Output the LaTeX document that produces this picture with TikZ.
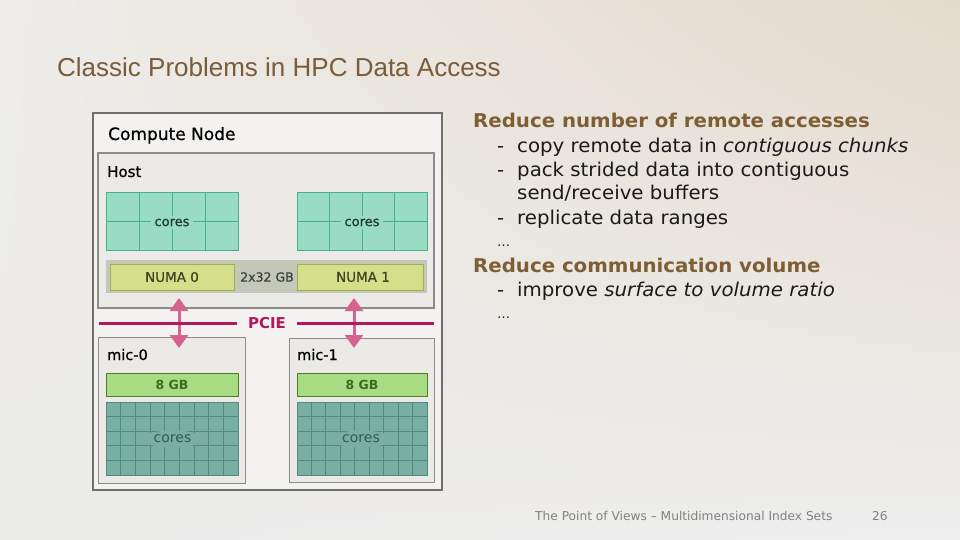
\documentclass[tikz,border=0pt]{standalone}
\usepackage{fontspec}
\setmainfont{DejaVu Sans}
\newfontfamily\titlefont{Liberation Sans}
\newfontfamily\medfont[FakeBold=0.8]{DejaVu Sans}
\usepackage{graphicx}
\usetikzlibrary{arrows.meta,shapes.geometric,shadings}
\definecolor{bgUL}{HTML}{EEEDEA}
\definecolor{bgUR}{HTML}{E4DACB}
\definecolor{bgLL}{HTML}{ECECEB}
\definecolor{bgLR}{HTML}{EEEEEE}
\definecolor{titlecol}{HTML}{7A5C3A}
\definecolor{headcol}{HTML}{7E5E35}
\definecolor{bodycol}{HTML}{1A1A1A}
\definecolor{footcol}{HTML}{808080}
\definecolor{outerdraw}{HTML}{6F6F6F}
\definecolor{outerfill}{HTML}{F3F2F0}
\definecolor{hostdraw}{HTML}{8C8C8C}
\definecolor{hostfill}{HTML}{EBEAE6}
\definecolor{hcfill}{HTML}{99DBC5}
\definecolor{hcline}{HTML}{44B28E}
\definecolor{hctext}{HTML}{1F3A32}
\definecolor{memstrip}{HTML}{C4C8B9}
\definecolor{numafill}{HTML}{D5DF8A}
\definecolor{numadraw}{HTML}{A3AE5A}
\definecolor{numatext}{HTML}{3F4424}
\definecolor{gbtext}{HTML}{3F3F3F}
\definecolor{pciecol}{HTML}{B2175F}
\definecolor{arrowcol}{HTML}{D5628F}
\definecolor{eightfill}{HTML}{A8DC82}
\definecolor{eightdraw}{HTML}{4E7D2E}
\definecolor{eighttext}{HTML}{3C6B1D}
\definecolor{mcfill}{HTML}{79AEA2}
\definecolor{mcline}{HTML}{4F8A7E}
\definecolor{mctext}{HTML}{2F5C53}
\newcommand{\widetxt}[1]{\scalebox{1.04}[1]{#1}}
\begin{document}
\begin{tikzpicture}[x=1pt,y=-1pt,
  rbox/.style={anchor=north west, inner sep=0pt, outer sep=0pt},
  outerbox/.style={rbox, draw=outerdraw, fill=outerfill, line width=2pt},
  hostbox/.style={rbox, draw=hostdraw, fill=hostfill, line width=1.3pt},
  micbox/.style={rbox, draw=hostdraw, fill=hostfill, line width=1pt},
  hcbox/.style={rbox, draw=hcline, fill=hcfill, line width=0.8pt},
  hcgrid/.style={draw=hcline, line width=0.8pt},
  mcbox/.style={rbox, draw=mcline, fill=mcfill, line width=0.8pt},
  mcgrid/.style={draw=mcline, line width=0.8pt},
  numabox/.style={rbox, draw=numadraw, fill=numafill, line width=0.8pt},
  eightbox/.style={rbox, draw=eightdraw, fill=eightfill, line width=0.9pt},
  lbl/.style={anchor=base west, inner sep=0pt, text=black},
  headtxt/.style={anchor=base west, inner sep=0pt, text=headcol, font=\bfseries\fontsize{19}{22}\selectfont},
  bodytxt/.style={anchor=base west, inner sep=0pt, text=bodycol, font=\fontsize{19}{22}\selectfont},
  pcarrow/.style={draw=arrowcol, line width=3pt, {Triangle[width=18pt,length=13pt]}-{Triangle[width=18pt,length=13pt]}},
  pcieline/.style={draw=pciecol, line width=3pt}
]
\useasboundingbox (0,0) rectangle (960,540);
\shade[upper left=bgUL, upper right=bgUR, lower left=bgLL, lower right=bgLR] (0,0) rectangle (960,540);

% title
\node[anchor=base west, inner sep=0pt, text=titlecol, font=\titlefont\fontsize{26}{30}\selectfont] (title) at (57,77) {Classic Problems in HPC Data Access};

% compute node
\node[outerbox, minimum width=349pt, minimum height=377pt] (cn) at (93,113) {};
\node[lbl, font=\medfont\fontsize{17}{20}\selectfont] (cnlbl) at (108,140) {Compute Node};

% host
\node[hostbox, minimum width=336pt, minimum height=155pt] (host) at (98,153) {};
\node[lbl, font=\medfont\fontsize{15}{18}\selectfont] (hostlbl) at (107,177) {Host};

% host cores left
\node[hcbox, minimum width=132pt, minimum height=58pt] (hcl) at (106,192) {};
\foreach \i in {1,2,3} \draw[hcgrid] (106+\i*33,192) -- (106+\i*33,250);
\draw[hcgrid] (106,221) -- (238,221);
\node[fill=hcfill, inner xsep=4pt, inner ysep=3pt, text=hctext, font=\medfont\fontsize{13}{15}\selectfont] (hcltxt) at (172,222.5) {cores};

% host cores right
\node[hcbox, minimum width=130pt, minimum height=58pt] (hcr) at (297,192) {};
\foreach \i in {1,2,3} \draw[hcgrid] (297+\i*32.5,192) -- (297+\i*32.5,250);
\draw[hcgrid] (297,221) -- (427,221);
\node[fill=hcfill, inner xsep=4pt, inner ysep=3pt, text=hctext, font=\medfont\fontsize{13}{15}\selectfont] (hcrtxt) at (362,222.5) {cores};

% memory strip
\node[rbox, fill=memstrip, minimum width=321pt, minimum height=33pt] (mem) at (106,260) {};
\node[numabox, minimum width=124pt, minimum height=26pt] (numa0) at (110,264) {};
\node[text=numatext, font=\medfont\fontsize{13.5}{16}\selectfont] (numa0txt) at (172,277) {NUMA 0};
\node[numabox, minimum width=126pt, minimum height=26pt] (numa1) at (297,264) {};
\node[text=numatext, font=\medfont\fontsize{13.5}{16}\selectfont] (numa1txt) at (363,277) {NUMA 1};
\node[text=gbtext, font=\medfont\fontsize{12.5}{15}\selectfont] (gb) at (267,277) {2x32 GB};

% mic boxes
\node[micbox, minimum width=147pt, minimum height=146pt] (mic0) at (98,337) {};
\node[lbl, font=\medfont\fontsize{14.5}{17}\selectfont] (mic0lbl) at (107,360) {mic-0};
\node[micbox, minimum width=145pt, minimum height=144pt] (mic1) at (289,338) {};
\node[lbl, font=\medfont\fontsize{14.5}{17}\selectfont] (mic1lbl) at (297,360) {mic-1};

% 8 GB bars
\node[eightbox, minimum width=132pt, minimum height=23pt] (gb0) at (106,373) {};
\node[text=eighttext, font=\bfseries\fontsize{12.5}{14}\selectfont] (gb0txt) at (172,384.5) {8 GB};
\node[eightbox, minimum width=130pt, minimum height=23pt] (gb1) at (297,373) {};
\node[text=eighttext, font=\bfseries\fontsize{12.5}{14}\selectfont] (gb1txt) at (362,384.5) {8 GB};

% mic cores left
\node[mcbox, minimum width=132pt, minimum height=73pt] (mcl) at (106,402) {};
\foreach \i in {1,...,8} \draw[mcgrid] (106+\i*14.667,402) -- (106+\i*14.667,475);
\foreach \j in {1,...,4} \draw[mcgrid] (106,402+\j*14.6) -- (238,402+\j*14.6);
\node[ellipse, fill=mcfill, inner xsep=3pt, inner ysep=2pt, text=mctext, font=\fontsize{14}{16}\selectfont] (mcltxt) at (172.5,439) {cores};

% mic cores right
\node[mcbox, minimum width=130pt, minimum height=73pt] (mcr) at (297,402) {};
\foreach \i in {1,...,8} \draw[mcgrid] (297+\i*14.444,402) -- (297+\i*14.444,475);
\foreach \j in {1,...,4} \draw[mcgrid] (297,402+\j*14.6) -- (427,402+\j*14.6);
\node[ellipse, fill=mcfill, inner xsep=3pt, inner ysep=2pt, text=mctext, font=\fontsize{14}{16}\selectfont] (mcrtxt) at (361,439) {cores};

% PCIE arrows
\coordinate (a0top) at (179,298);
\coordinate (a0bot) at (179,348);
\coordinate (a1top) at (354,298);
\coordinate (a1bot) at (354,348);
\draw[pcarrow] (a0top) -- (a0bot);
\draw[pcarrow] (a1top) -- (a1bot);

% PCIE bus
\node[text=pciecol, font=\bfseries\fontsize{15}{18}\selectfont, inner xsep=11pt, inner ysep=2pt] (pcie) at (267,323) {PCIE};
\coordinate (busL) at (99,323);
\coordinate (busR) at (434,323);
\draw[pcieline] (busL) -- (pcie.west);
\draw[pcieline] (pcie.east) -- (busR);

% right text
\node[headtxt] (h1) at (473,128) {\widetxt{Reduce number of remote accesses}};
\node[bodytxt] (d1) at (497,152.5) {\widetxt{-}};
\node[bodytxt] (t1) at (517,152.5) {\widetxt{copy remote data in \textit{contiguous chunks}}};
\node[bodytxt] (d2) at (497,176.5) {\widetxt{-}};
\node[bodytxt] (t2) at (517,176.5) {\widetxt{pack strided data into contiguous}};
\node[bodytxt] (t3) at (517,200) {\widetxt{send/receive buffers}};
\node[bodytxt] (d4) at (497,224) {\widetxt{-}};
\node[bodytxt] (t4) at (517,224) {\widetxt{replicate data ranges}};
\node[bodytxt, font=\fontsize{13}{15}\selectfont] (e1) at (497,246) {…};
\node[headtxt] (h2) at (473,272) {\widetxt{Reduce communication volume}};
\node[bodytxt] (d5) at (497,296.5) {\widetxt{-}};
\node[bodytxt] (t5) at (517,296.5) {\widetxt{improve \textit{surface to volume ratio}}};
\node[bodytxt, font=\fontsize{13}{15}\selectfont] (e2) at (497,318.5) {…};

% footer
\node[anchor=base west, inner sep=0pt, text=footcol, font=\fontsize{12.2}{14}\selectfont] (foot) at (535,520) {The Point of Views – Multidimensional Index Sets};
\node[anchor=base west, inner sep=0pt, text=footcol, font=\fontsize{12.2}{14}\selectfont] (page) at (872,520) {26};
\end{tikzpicture}
\end{document}
